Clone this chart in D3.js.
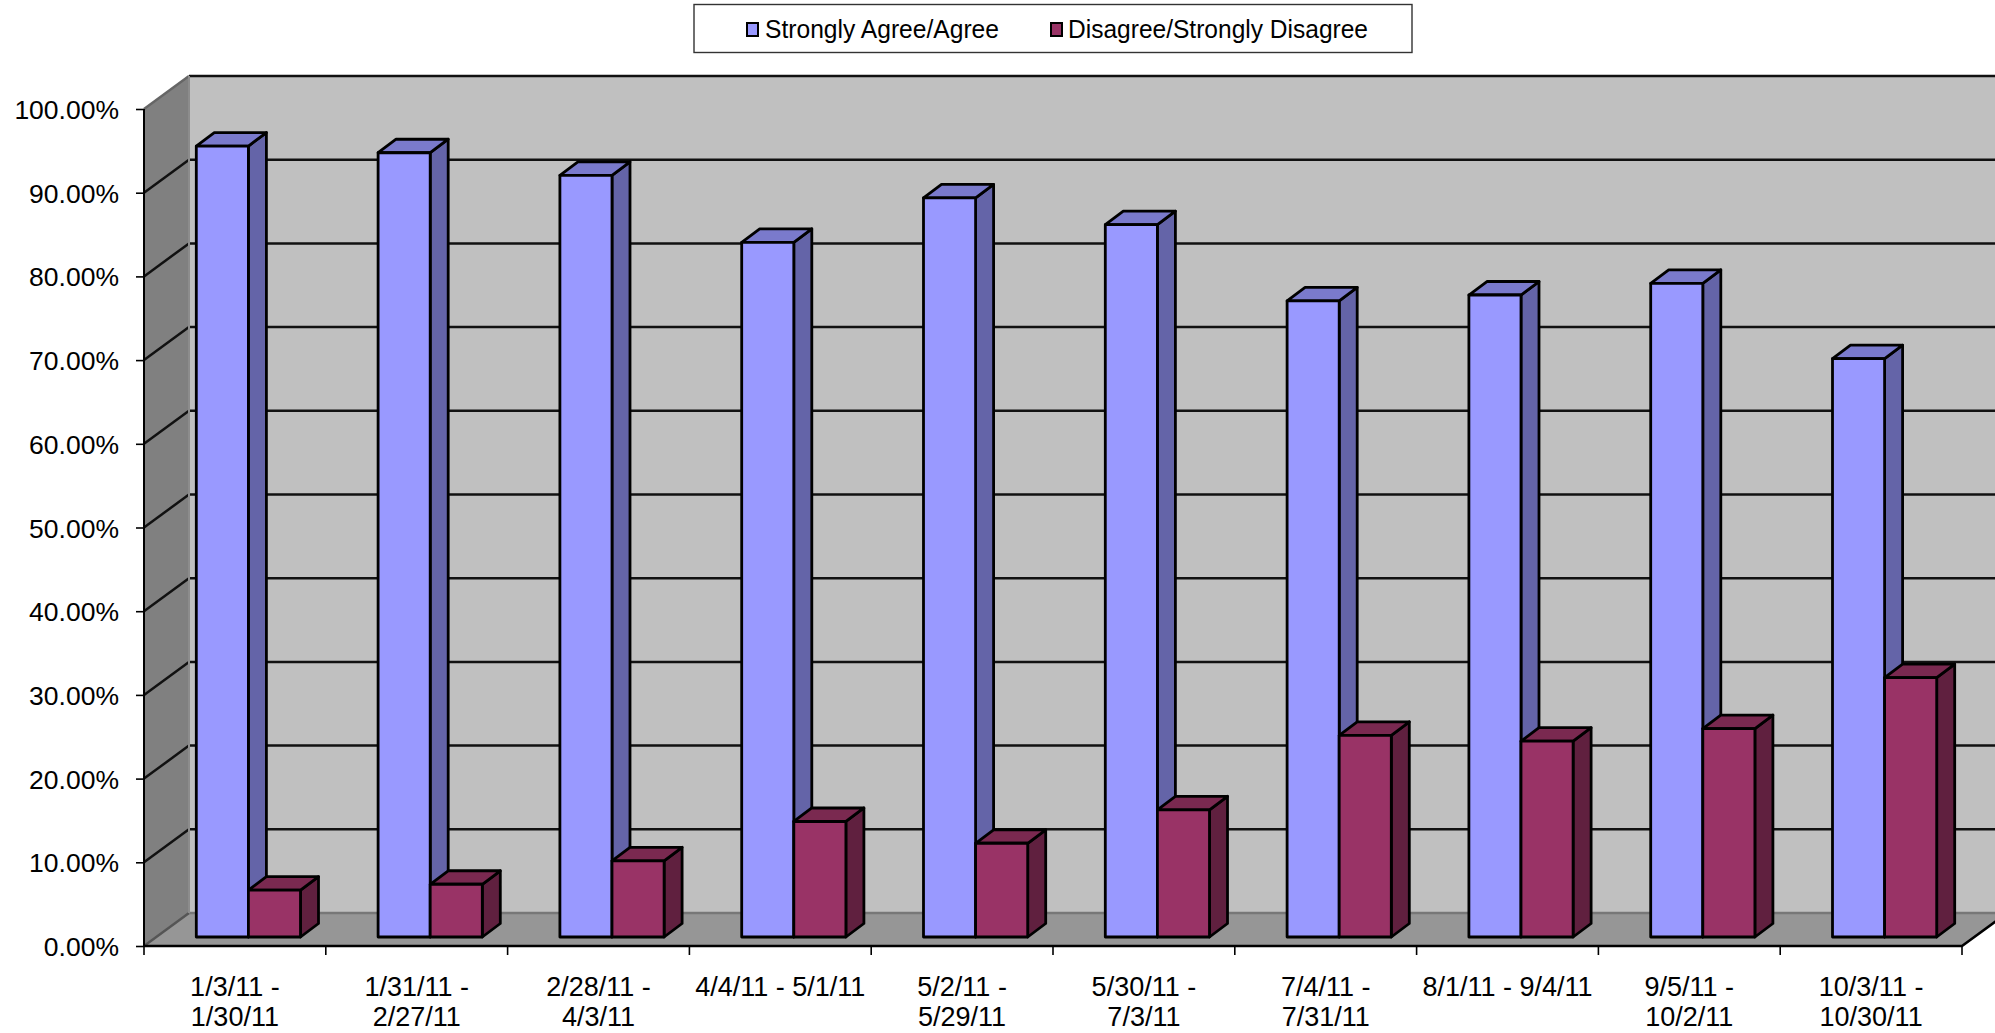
<!DOCTYPE html>
<html>
<head>
<meta charset="utf-8">
<script src="https://cdn.jsdelivr.net/npm/d3@7/dist/d3.min.js"></script>
<style>
html,body{margin:0;padding:0;background:#fff;overflow:hidden}
svg{display:block}
text{font-family:"Liberation Sans",Arial,sans-serif;fill:#000}
</style>
</head>
<body>
<div id="chart"></div>
<script>
// Survey periods and response shares, in percent
const categories = [
  "1/3/11 -\n1/30/11", "1/31/11 -\n2/27/11", "2/28/11 -\n4/3/11", "4/4/11 - 5/1/11",
  "5/2/11 -\n5/29/11", "5/30/11 -\n7/3/11", "7/4/11 -\n7/31/11", "8/1/11 - 9/4/11",
  "9/5/11 -\n10/2/11", "10/3/11 -\n10/30/11"
];
const seriesNames = ["Strongly Agree/Agree", "Disagree/Strongly Disagree"];
const agree = [94.5, 93.7, 91.0, 83.0, 88.3, 85.1, 76.0, 76.7, 78.1, 69.1];
const disagree = [5.6, 6.3, 9.1, 13.8, 11.2, 15.2, 24.1, 23.4, 24.9, 31.0];
const yTicks = [0, 10, 20, 30, 40, 50, 60, 70, 80, 90, 100];

const W = 1995, H = 1033;
const frontLeft = 144, frontRight = 1962, yBase = 946, yTop = 109;
const depth = { x: 45, y: -33 };        // floor and wall depth
const barDepth = { x: 18, y: -13.5 };   // depth of each column
const barShift = { x: 13.5, y: -9 };    // columns sit slightly behind the front edge

const palette = [
  { front: "#9999ff", top: "#7a7acc", side: "#6464a8" },
  { front: "#993366", top: "#7a2950", side: "#60203f" }
];

const x = d3.scaleBand().domain(d3.range(categories.length)).range([frontLeft, frontRight]);
const inner = d3.scaleBand().domain([0, 1]).range([38.8, 143]);
const y = d3.scaleLinear().domain([0, 100]).range([yBase, yTop]);

const svg = d3.select("#chart").append("svg").attr("width", W).attr("height", H);
const poly = pts => pts.map(p => p.join(",")).join(" ");

// Walls and floor
const backRight = frontRight + depth.x;
svg.append("polygon").attr("fill", "#c0c0c0")
  .attr("points", poly([[frontLeft + depth.x, yTop + depth.y], [backRight, yTop + depth.y], [backRight, yBase + depth.y], [frontLeft + depth.x, yBase + depth.y]]));
svg.append("polygon").attr("fill", "#808080")
  .attr("points", poly([[frontLeft, yTop], [frontLeft + depth.x, yTop + depth.y], [frontLeft + depth.x, yBase + depth.y], [frontLeft, yBase]]));
svg.append("polygon").attr("fill", "#969696")
  .attr("points", poly([[frontLeft, yBase], [frontLeft + depth.x, yBase + depth.y], [backRight, yBase + depth.y], [frontRight, yBase]]));

// Gridlines run along the side wall and across the back wall
const grid = svg.append("g").attr("fill", "none");
yTicks.forEach(v => {
  const edge = v === 0 ? "#555" : (v === 100 ? "#666" : "#111");
  grid.append("path")
    .attr("stroke", edge).attr("stroke-width", 2.5)
    .attr("d", `M${frontLeft},${y(v)}L${frontLeft + depth.x},${y(v) + depth.y}`);
  grid.append("path")
    .attr("stroke", v === 0 ? "#777" : "#111").attr("stroke-width", 2.5)
    .attr("d", `M${frontLeft + depth.x},${y(v) + depth.y}L${backRight},${y(v) + depth.y}`);
});
grid.append("path").attr("stroke", "#8c8c8c").attr("stroke-width", 2)
  .attr("d", `M${frontLeft + depth.x},${yTop + depth.y}V${yBase + depth.y}`);

// Columns: side and top faces first, front face on top
const bars = svg.append("g").attr("stroke", "#000").attr("stroke-width", 2.8).attr("stroke-linejoin", "round");
categories.forEach((c, i) => {
  [agree[i], disagree[i]].forEach((v, s) => {
    const x0 = x(i) + inner(s) + barShift.x, x1 = x0 + inner.bandwidth();
    const y0 = y(0) + barShift.y, y1 = y(v) + barShift.y;
    const dx = barDepth.x, dy = barDepth.y;
    bars.append("polygon").attr("fill", palette[s].side)
      .attr("points", poly([[x1, y1], [x1 + dx, y1 + dy], [x1 + dx, y0 + dy], [x1, y0]]));
    bars.append("polygon").attr("fill", palette[s].top)
      .attr("points", poly([[x0, y1], [x0 + dx, y1 + dy], [x1 + dx, y1 + dy], [x1, y1]]));
    bars.append("rect").attr("fill", palette[s].front)
      .attr("x", x0).attr("y", y1).attr("width", x1 - x0).attr("height", y0 - y1);
  });
});

// Vertical axis
const yAxis = svg.append("g").attr("transform", `translate(${frontLeft},0)`)
  .call(d3.axisLeft(y).tickValues(yTicks).tickFormat(d => d3.format(".2f")(d) + "%").tickSize(8).tickPadding(17));
yAxis.select(".domain").attr("stroke", "#000").attr("stroke-width", 2).attr("d", `M0,${yTop}V${yBase}`);
yAxis.selectAll(".tick line").attr("stroke", "#000").attr("stroke-width", 1.6);
yAxis.selectAll("text").attr("font-size", 26.5).attr("font-family", "Liberation Sans").attr("fill", "#000").attr("dy", "0.36em");

// Horizontal axis: ticks fall on the band edges, labels in the band centres
const xAxis = svg.append("g").attr("transform", `translate(0,${yBase})`)
  .call(d3.axisBottom(x).tickSize(0).tickFormat(""));
xAxis.select(".domain").attr("stroke", "#000").attr("stroke-width", 2.6).attr("d", `M${frontLeft},0H${frontRight}L${backRight},${depth.y}`);
d3.range(categories.length + 1).forEach(i => {
  const px = i < categories.length ? x(i) : frontRight;
  xAxis.append("line").attr("x1", px).attr("x2", px).attr("y1", 0).attr("y2", 9).attr("stroke", "#000").attr("stroke-width", 1.6);
});
xAxis.selectAll(".tick").each(function (d) {
  const t = d3.select(this).select("text").attr("y", 0).attr("dy", null)
    .attr("font-size", 27).attr("font-family", "Liberation Sans").attr("fill", "#000").attr("text-anchor", "middle");
  categories[d].split("\n").forEach((line, k) => {
    t.append("tspan").attr("x", 0).attr("y", 49.5 + k * 30).text(line);
  });
});

// Legend
const legend = svg.append("g");
legend.append("rect").attr("x", 694).attr("y", 4.5).attr("width", 718).attr("height", 48)
  .attr("fill", "#fff").attr("stroke", "#333").attr("stroke-width", 1.4);
const legendX = [[747, 765], [1051, 1068]];
const legendLen = [234, 300];
seriesNames.forEach((name, s) => {
  legend.append("rect").attr("x", legendX[s][0]).attr("y", 23).attr("width", 11).attr("height", 13)
    .attr("fill", palette[s].front).attr("stroke", "#000").attr("stroke-width", 2);
  legend.append("text").attr("x", legendX[s][1]).attr("y", 38).attr("font-size", 26)
    .attr("textLength", legendLen[s]).attr("lengthAdjust", "spacingAndGlyphs").text(name);
});
</script>
</body>
</html>
